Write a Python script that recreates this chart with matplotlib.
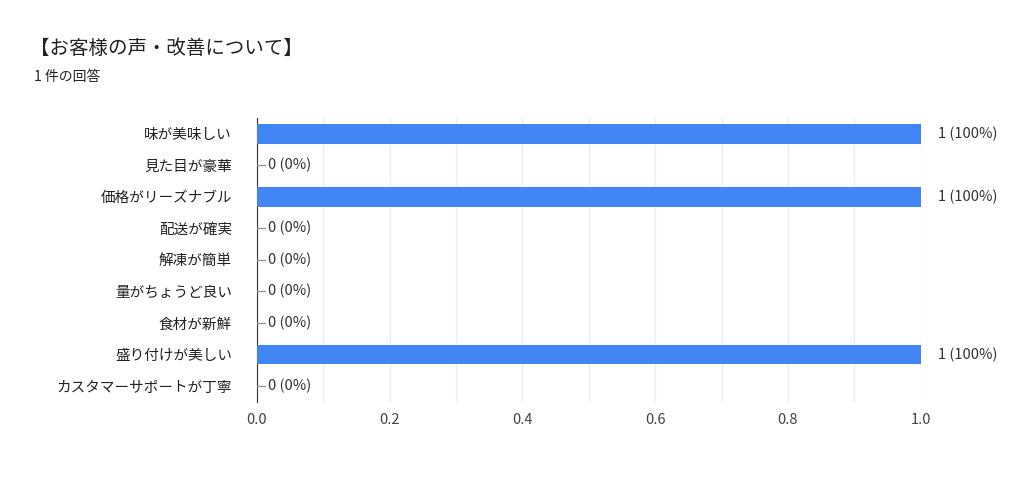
import matplotlib
matplotlib.use("Agg")
import matplotlib.pyplot as plt

plt.rcParams['font.family'] = ['Noto Sans CJK JP', 'DejaVu Sans']

categories = ['味が美味しい', '見た目が豪華', '価格がリーズナブル', '配送が確実', '解凍が簡単',
              '量がちょうど良い', '食材が新鮮', '盛り付けが美しい', 'カスタマーサポートが丁寧']
counts = [1, 0, 1, 0, 0, 0, 0, 1, 0]
total = 1

fig = plt.figure(figsize=(10.24, 4.87), dpi=100)
ax = fig.add_axes([0.251, 0.175, 0.648, 0.583])

y = list(range(len(categories)))
ax.barh(y, [c / total for c in counts], height=0.63, color='#4285f4', zorder=3)

for yi, c in zip(y, counts):
    label = f'{c} ({c / total * 100:.0f}%)'
    if c == 0:
        ax.plot([0, 0.012], [yi, yi], color='#999999', lw=1, zorder=4)
        ax.text(0.017, yi, label, va='center', ha='left', fontsize=10.5, color='#333333')
    else:
        ax.text(c / total + 0.027, yi, label, va='center', ha='left', fontsize=10.5, color='#333333')

ax.set_xlim(0, 1)
ax.set_ylim(len(categories) - 0.5, -0.5)
ax.set_yticks(y)
ax.set_yticklabels(categories, fontsize=10.5, color='#222222')
ax.set_xticks([0, 0.2, 0.4, 0.6, 0.8, 1.0])
ax.set_xticklabels(['0.0', '0.2', '0.4', '0.6', '0.8', '1.0'], fontsize=10.5, color='#444444')
ax.set_xticks([i / 10 for i in range(11)], minor=True)
ax.grid(axis='x', which='both', color='#eeeeee', lw=1, zorder=0)
ax.tick_params(axis='both', which='both', length=0)
ax.tick_params(axis='y', pad=18)
ax.tick_params(axis='x', pad=8)
for s in ['top', 'right', 'bottom']:
    ax.spines[s].set_visible(False)
ax.spines['left'].set_color('#333333')

fig.text(0.029, 0.90, '【お客様の声・改善について】', fontsize=14, color='#222222', va='center')
fig.text(0.033, 0.842, '1 件の回答', fontsize=10, color='#222222', va='center')

fig.savefig('out.png', dpi=100)
